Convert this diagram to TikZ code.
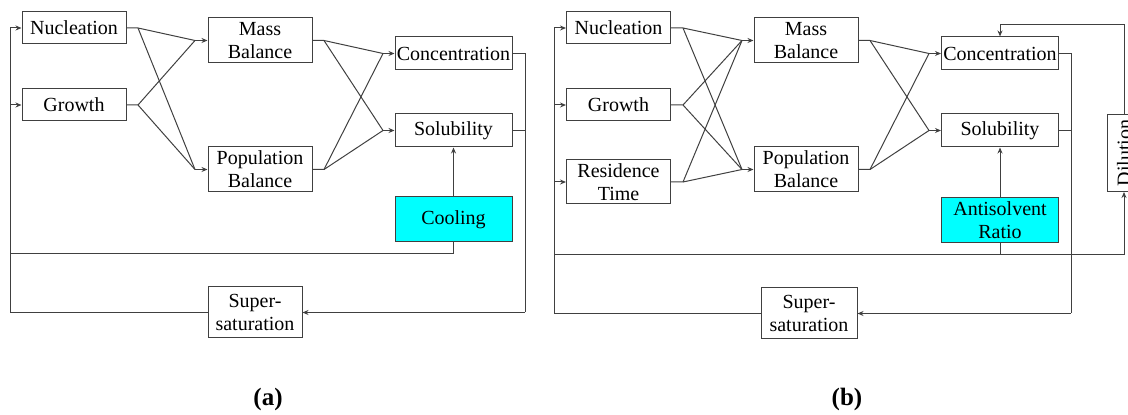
\documentclass[tikz,border=0pt]{standalone}
\usepackage{fontspec}
\setmainfont{Liberation Serif}
\usetikzlibrary{arrows.meta}
\usetikzlibrary{positioning}
\usepackage{xcolor}
\definecolor{linegray}{RGB}{64,64,64}
\definecolor{boxcyan}{RGB}{0,255,255}
\tikzset{
    blk/.style={
        draw=linegray,
        fill=white,
        line width=0.5pt,
        inner sep=0.5pt,
        align=center,
        minimum width=52pt,
        minimum height=16pt,
        font=\fontsize{10}{11.5}\selectfont
    },
    link/.style={
        draw=linegray,
        line width=0.5pt
    },
    arr/.style={
        link,
        -{Stealth[length=3pt, width=2.5pt]}
    }
}

\begin{document}
\begin{tikzpicture}[x=0.5pt, y=-0.5pt]
    \useasboundingbox (0,0) rectangle (1128,415);
    \clip (0,0) rectangle (1128,415);

    % Boxes - panel (a)
    \node[blk] (nuc) at (74,28) {Nucleation};
    \node[blk] (gro) at (74,105) {Growth};
    \node[blk, minimum height=22.5pt] (mass) at (260,40.5) {Mass\\Balance};
    \node[blk, minimum height=22.5pt] (pop) at (260,169.5) {Population\\Balance};
    \node[blk, minimum width=58.5pt, minimum height=16.5pt] (conc) at (453.5,53.5) {Concentration};
    \node[blk, minimum width=58.5pt, minimum height=16.5pt] (sol) at (453.5,130.5) {Solubility};
    \node[blk, fill=boxcyan, minimum width=58.5pt, minimum height=22.5pt] (cool) at (453.5,219.5) {Cooling};
    \node[blk, minimum width=47pt, minimum height=25.5pt] (sup) at (255,312.5) {Super-\\saturation};

    % Junctions - panel (a)
    \coordinate (nf) at (138,28);
    \coordinate (gf) at (138,105);
    \coordinate (massin) at (195,40.5);
    \coordinate (popin) at (195,169.5);
    \coordinate (mf) at (324,40.5);
    \coordinate (pf) at (324,169.5);
    \coordinate (concin) at (383,53.5);
    \coordinate (solin) at (383,130.5);
    \coordinate (concr) at (525,53.5);
    \coordinate (solr) at (525,130.5);
    \coordinate (supr) at (525,312.5);
    \coordinate (coolb) at (453.5,254);
    \coordinate (lbus) at (10,254);
    \coordinate (lbot) at (10,312.5);
    \coordinate (ltop) at (10,28);
    \coordinate (lgro) at (10,105);

    % Edges - panel (a)
    \draw[link] (nuc.east) -- (nf) -- (massin);
    \draw[link] (nf) -- (popin);
    \draw[link] (gro.east) -- (gf) -- (massin);
    \draw[link] (gf) -- (popin);
    \draw[arr] (massin) -- (mass.west);
    \draw[arr] (popin) -- (pop.west);
    \draw[link] (mass.east) -- (mf) -- (concin);
    \draw[link] (mf) -- (solin);
    \draw[link] (pop.east) -- (pf) -- (concin);
    \draw[link] (pf) -- (solin);
    \draw[arr] (concin) -- (conc.west);
    \draw[arr] (solin) -- (sol.west);
    \draw[link] (conc.east) -- (concr) -- (supr);
    \draw[link] (sol.east) -- (solr);
    \draw[arr] (supr) -- (sup.east);
    \draw[arr] (cool.north) -- (sol.south);
    \draw[link] (cool.south) -- (coolb) -- (lbus);
    \draw[link] (sup.west) -- (lbot) -- (ltop);
    \draw[arr] (ltop) -- (nuc.west);
    \draw[arr] (lgro) -- (gro.west);

    % Boxes - panel (b)
    \node[blk] (nuc2) at (618.5,28) {Nucleation};
    \node[blk] (gro2) at (618.5,105) {Growth};
    \node[blk, minimum height=22pt] (res2) at (618.5,182) {Residence\\Time};
    \node[blk, minimum height=22.5pt] (mass2) at (806,40.5) {Mass\\Balance};
    \node[blk, minimum height=22.5pt] (pop2) at (806,169.5) {Population\\Balance};
    \node[blk, minimum width=58.5pt, minimum height=16.5pt] (conc2) at (1000,53.5) {Concentration};
    \node[blk, minimum width=58.5pt, minimum height=16.5pt] (sol2) at (1000,130.5) {Solubility};
    \node[blk, fill=boxcyan, minimum width=58.5pt, minimum height=22.5pt] (anti2) at (1000,220.5) {Antisolvent\\Ratio};
    \node[blk, rotate=90, minimum width=38.5pt, minimum height=17pt] (dil2) at (1124,153) {Dilution};
    \node[blk, minimum width=48pt, minimum height=25.5pt] (sup2) at (809,313.5) {Super-\\saturation};

    % Junctions - panel (b)
    \coordinate (nf2) at (683,28);
    \coordinate (gf2) at (683,105);
    \coordinate (rf2) at (683,182);
    \coordinate (massin2) at (742,40.5);
    \coordinate (popin2) at (742,169.5);
    \coordinate (mf2) at (870,40.5);
    \coordinate (pf2) at (870,169.5);
    \coordinate (concin2) at (929,53.5);
    \coordinate (solin2) at (929,130.5);
    \coordinate (concr2) at (1071,53.5);
    \coordinate (solr2) at (1071,130.5);
    \coordinate (supr2) at (1071,313.5);
    \coordinate (antib2) at (1000,255);
    \coordinate (lbus2) at (554,255);
    \coordinate (rbus2) at (1124,255);
    \coordinate (dilt2) at (1124,25);
    \coordinate (conct2) at (1000,25);
    \coordinate (lbot2) at (554,313.5);
    \coordinate (ltop2) at (554,28);
    \coordinate (lgro2) at (554,105);
    \coordinate (lres2) at (554,182);

    % Edges - panel (b)
    \draw[link] (nuc2.east) -- (nf2) -- (massin2);
    \draw[link] (nf2) -- (popin2);
    \draw[link] (gro2.east) -- (gf2) -- (massin2);
    \draw[link] (gf2) -- (popin2);
    \draw[link] (res2.east) -- (rf2) -- (massin2);
    \draw[link] (rf2) -- (popin2);
    \draw[arr] (massin2) -- (mass2.west);
    \draw[arr] (popin2) -- (pop2.west);
    \draw[link] (mass2.east) -- (mf2) -- (concin2);
    \draw[link] (mf2) -- (solin2);
    \draw[link] (pop2.east) -- (pf2) -- (concin2);
    \draw[link] (pf2) -- (solin2);
    \draw[arr] (concin2) -- (conc2.west);
    \draw[arr] (solin2) -- (sol2.west);
    \draw[link] (conc2.east) -- (concr2) -- (supr2);
    \draw[link] (sol2.east) -- (solr2);
    \draw[arr] (supr2) -- (sup2.east);
    \draw[arr] (anti2.north) -- (sol2.south);
    \draw[link] (anti2.south) -- (antib2) -- (lbus2);
    \draw[link] (antib2) -- (rbus2);
    \draw[arr] (rbus2) -- (dil2.west);
    \draw[link] (dil2.east) -- (dilt2) -- (conct2);
    \draw[arr] (conct2) -- (conc2.north);
    \draw[link] (sup2.west) -- (lbot2) -- (ltop2);
    \draw[arr] (ltop2) -- (nuc2.west);
    \draw[arr] (lgro2) -- (gro2.west);
    \draw[arr] (lres2) -- (res2.west);

    % Panel labels
    \node[font=\fontsize{12.5}{14}\selectfont\bfseries] (laba) at (268,399) {(a)};
    \node[font=\fontsize{12.5}{14}\selectfont\bfseries] (labb) at (847,399) {(b)};
\end{tikzpicture}
\end{document}
